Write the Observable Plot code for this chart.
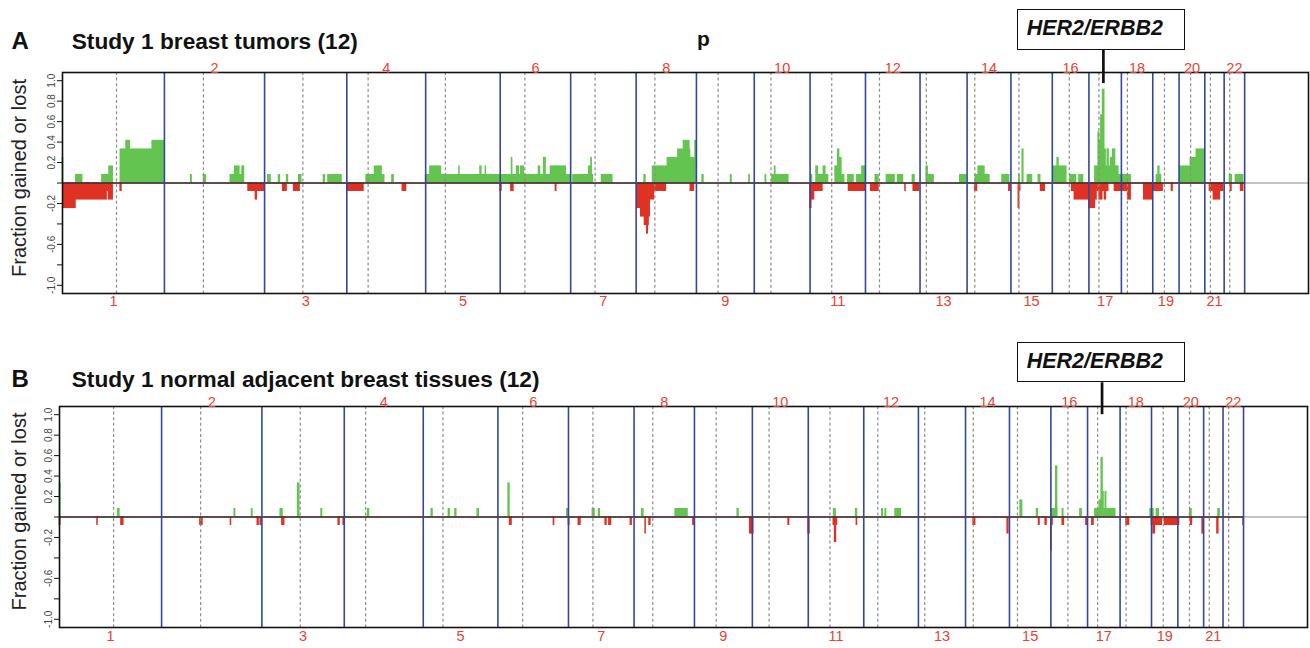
<!DOCTYPE html>
<html><head><meta charset="utf-8">
<script src="https://cdn.jsdelivr.net/npm/d3@7"></script>
<script src="https://cdn.jsdelivr.net/npm/@observablehq/plot@0.6"></script>
<style>
body{margin:0;background:#fff;font-family:"Liberation Sans",Arial,sans-serif;}
#wrap{position:relative;width:1310px;height:648px;overflow:hidden;}
.panel{position:absolute;left:0;}
.box{position:absolute;border:1.5px solid #111;background:#fff;box-sizing:border-box;
 font-family:"Liberation Sans",Arial,sans-serif;font-style:italic;font-weight:bold;font-size:21.5px;
 color:#111;padding-left:9px;white-space:nowrap;}
</style></head>
<body><div id="wrap"></div>
<script>
// ---------- data ----------
const chromNames = ["1","2","3","4","5","6","7","8","9","10","11","12","13","14","15","16","17","18","19","20","21","22","X"];
const chromLengthsMb = [247.25,242.95,199.5,191.27,180.86,170.9,158.82,146.27,140.27,135.37,134.45,132.35,114.14,106.37,100.34,88.83,78.77,76.12,63.81,62.44,46.94,49.69,154.91];
const centromereMb = [131,94.6,92.9,51.7,47.8,59.9,59.2,45.4,52.6,40.5,52.6,34,15.3,18.7,19.4,41.2,24.3,14.6,28.4,28.1,13.6,13.6];
const yTicks = [-1,-0.8,-0.6,-0.4,-0.2,0,0.2,0.4,0.6,0.8,1];
const yTickLabels = ["-1.0","","-0.6","","-0.2","","0.2","0.4","0.6","0.8","1.0"];
const erbb2 = {chr: 17, mb: 35.1};

// [chromosome, start Mb, end Mb, fraction]
const gainsA = [
 [1,0,2.4,0.25],[1,32.5,48.7,0.083],[1,95.8,113,0.083],[1,113,122.7,0.167],[1,140.5,154.3,0.333],[1,154.3,164,0.417],[1,164,217.7,0.333],[1,217.7,247,0.417],
 [2,64,67,0.083],[2,95,101.5,0.083],[2,160,170.6,0.083],[2,170.6,182.8,0.167],[2,182.8,188.5,0.083],[2,188.5,194,0.167],
 [3,8,15.4,0.083],[3,34,38,0.083],[3,53.6,57.7,0.083],[3,83,90,0.083],[3,143,147,0.083],[3,154,187.6,0.083],
 [4,47,67.4,0.083],[4,67.4,85.3,0.167],[4,85.3,91.8,0.083],[4,109.7,114.5,0.083],
 [5,0,10.5,0.083],[5,10.5,38,0.167],[5,38,180.8,0.083],[5,81,83,0.167],[5,132,136,0.167],[5,145,147,0.167],
 [6,0,122,0.083],[6,27.6,30,0.25],[6,40,46,0.167],[6,50,58.5,0.167],[6,93,97.5,0.167],[6,105.6,111,0.25],[6,122,160,0.167],[6,160,170.9,0.083],
 [7,5.7,44,0.083],[7,44,49.5,0.167],[7,49.5,52,0.25],[7,52,55,0.083],[7,75,102,0.083],
 [8,19.5,23.5,0.083],[8,40,76,0.167],[8,76,101.5,0.25],[8,101.5,115,0.333],[8,115,130,0.417],[8,130,132,0.333],[8,132,143,0.25],[8,143,146.2,0.417],
 [9,14,18,0.083],[9,83,86,0.083],[9,127.5,130,0.083],
 [10,27,29.5,0.083],[10,43,83.7,0.083],[10,49.5,52,0.167],
 [11,2.4,5.7,0.083],[11,14.6,20,0.167],[11,20,32.5,0.083],[11,32.5,38,0.167],[11,38,44.7,0.083],[11,61,67.4,0.167],[11,67.4,71.5,0.333],[11,71.5,77,0.25],[11,77,83.7,0.083],[11,91.8,106.4,0.083],[11,113.7,126,0.083],[11,126,134,0.167],
 [12,24,32.5,0.083],[12,51,71.5,0.083],[12,78,92,0.083],[12,114,120,0.083],
 [13,15.4,19.5,0.167],[13,19.5,34,0.083],[13,96.7,113,0.083],
 [14,20,27,0.083],[14,27,43,0.167],[14,43,55,0.083],[14,85,103,0.083],
 [15,19.5,22,0.083],[15,27.6,31,0.333],[15,40,52,0.083],[15,66.6,72,0.083],
 [16,2.4,12,0.167],[16,12,16,0.25],[16,16,35,0.167],[16,43,58.5,0.083],[16,65,75.5,0.083],
 [17,14.6,22.7,0.167],[17,22.7,26,0.5],[17,26,29.2,0.417],[17,29.2,33.3,0.667],[17,33.3,38.2,0.917],[17,38.2,41.5,0.333],[17,41.5,44.7,0.167],[17,44.7,48.7,0.333],[17,48.7,52.8,0.167],[17,52.8,58,0.25],[17,58,64.5,0.333],[17,64.5,72.5,0.167],[17,72.5,78.7,0.083],
 [18,0,23.5,0.083],
 [19,9,13,0.083],[19,13,17,0.167],[19,17,21,0.083],
 [20,1.6,27.6,0.167],[20,27.6,42,0.25],[20,42,62,0.333],
 [22,13,19.5,0.083],[22,27.6,47,0.083]
];
const lossesA = [
 [1,2.4,32.5,-0.25],[1,32.5,108,-0.167],[1,108,112,-0.083],[1,112,122.7,-0.167],[1,140,144,-0.083],
 [2,203,242,-0.083],[2,221,225,-0.167],
 [3,44,54.4,-0.083],[3,70.7,86,-0.083],
 [4,2.4,41.4,-0.083],[4,134.8,144.6,-0.083],
 [6,0,4,-0.083],[6,26,33,-0.083],[6,134,137,-0.083],
 [8,1.6,11.4,-0.25],[8,11.4,20.3,-0.333],[8,20.3,26,-0.417],[8,26,29.2,-0.5],[8,29.2,31.2,-0.417],[8,31.2,34,-0.333],[8,34,44,-0.167],[8,44,73,-0.083],[8,131.6,141,-0.083],
 [11,0,4,-0.25],[11,4,10.6,-0.167],[11,10.6,31,-0.083],[11,93.4,134.4,-0.083],
 [12,13,32.5,-0.083],[12,96,98,-0.083],[12,116,131,-0.083],
 [14,18.7,25,-0.083],[14,101.5,106,-0.083],
 [15,18,21,-0.25],[15,21,23.5,-0.083],[15,72,83,-0.083],
 [16,47,53.6,-0.083],[16,53.6,88.8,-0.167],
 [17,0,15.4,-0.25],[17,15.4,19.5,-0.167],[17,19.5,25,-0.083],[17,25,33.3,-0.167],[17,33.3,38,-0.083],[17,38,42,-0.167],[17,42,48,-0.083],[17,62,78.7,-0.083],
 [18,0,15.4,-0.083],[18,15.4,23.5,-0.167],[18,54.4,76,-0.167],
 [19,0,25,-0.083],[19,45.5,49,-0.083],
 [21,11.4,21,-0.083],[21,21,37.4,-0.167],[21,37.4,45.5,-0.083],
 [22,15.4,18.7,-0.083],[22,40,47,-0.083]
];
const gainsB = [
 [1,0,3,0.333],[1,141,146,0.083],
 [2,176,179,0.083],[2,218,221,0.083],
 [3,44.6,51,0.083],[3,86.7,91.6,0.333],[3,143.5,146.7,0.083],
 [4,56.7,60.8,0.083],
 [5,19.5,23.5,0.083],[5,61,65,0.083],[5,77,81,0.083],[5,131,135.4,0.083],
 [6,25,29,0.333],[6,167,170.9,0.083],
 [7,58,64,0.083],[7,73,77,0.083],
 [8,18.6,23.5,0.083],[8,99.7,130.5,0.083],
 [9,103.8,107.8,0.083],
 [11,61.6,67.3,0.083],[11,115,119,0.083],
 [12,43.8,47,0.083],[12,52,55,0.083],[12,76,90.8,0.083],
 [15,26,31.6,0.167],[15,65.7,69.7,0.083],
 [16,0,16,0.083],[16,12,16,0.5],[16,28,31,0.083],[16,70.5,75.4,0.083],
 [17,17.8,28.4,0.083],[17,28.4,33.3,0.167],[17,33.3,37.3,0.583],[17,37.3,39.7,0.25],[17,39.7,43,0.083],[17,43,46,0.25],[17,46,68,0.083],
 [18,73,76.1,0.083],[19,0,5.7,0.083],[19,12,18.6,0.083],
 [20,29,34,0.083],
 [21,35,39.7,0.083]
];
const lossesB = [
 [1,0,3,-0.083],[1,91,93,-0.083],[1,149,155.6,-0.083],
 [2,93,100,-0.083],[2,167,169,-0.083],[2,232,236,-0.083],[2,239,242.9,-0.083],
 [3,48.6,55,-0.083],[3,185,189,-0.083],[3,197,199.5,-0.083],
 [6,28.4,34,-0.083],[6,134.6,137,-0.083],
 [7,0,3,-0.083],[7,24,30,-0.083],[7,89,93,-0.083],[7,98,104,-0.083],[7,150,154,-0.083],
 [8,27,29,-0.167],[8,36.5,40.5,-0.083],[8,142.7,146,-0.083],
 [9,134,140.2,-0.167],
 [10,0,3.2,-0.167],[10,86.7,90,-0.083],
 [11,0,4,-0.167],[11,60.8,70.5,-0.083],[11,64,68,-0.25],[11,116.7,119,-0.083],
 [14,18.6,24.3,-0.083],[14,101,104.6,-0.167],
 [15,70.5,73.8,-0.083],[15,86.7,90.8,-0.083],
 [16,0,2.4,-0.333],[16,2.4,5,-0.083],[16,27.6,32.4,-0.083],[16,85,88.8,-0.083],
 [17,10.5,15.4,-0.083],
 [18,14.6,22.7,-0.083],
 [19,0,26,-0.083],[19,4,9,-0.167],[19,31.6,63.8,-0.083],
 [20,0,4,-0.083],[20,31,35,-0.083],[20,59,62.4,-0.167],
 [21,32.4,36.5,-0.167],
 [22,48.6,49.7,-0.083]
];

// ---------- layout / style ----------
const GREEN = "#63c450", RED = "#e03224", BLUE = "#3346a3", DASH = "#8c8c8c", LABELRED = "#e8412f";
const chromStart = Array.from(d3.cumsum([0, ...chromLengthsMb]));
const genomeEnd = chromStart[chromStart.length - 1];
const genome = (c, mb) => chromStart[c - 1] + mb;
const autosomes = d3.range(22);

function panel(cfg) {
  const bar = (data, fill) => Plot.rectY(data, {
    x1: d => genome(d[0], d[1]), x2: d => genome(d[0], d[2]),
    y1: () => 0, y2: d => d[3], fill, insetLeft: -0.35, insetRight: -0.35
  });
  return Plot.plot({
    width: 1310, height: 324,
    marginLeft: cfg.ml, marginRight: cfg.mr, marginTop: cfg.mt, marginBottom: cfg.mb,
    x: {domain: [0, genomeEnd], axis: null},
    y: {domain: [-1.08, 1.08]},
    style: {fontFamily: "'Liberation Sans', Arial, sans-serif", background: "transparent", overflow: "visible"},
    marks: [
      bar(cfg.gains, GREEN),
      bar(cfg.losses, RED),
      Plot.ruleX(centromereMb, {x: (d, i) => genome(i + 1, d), stroke: DASH, strokeWidth: 1.2, strokeDasharray: "3,2.6"}),
      Plot.ruleY([0], {stroke: "#8a8a8a", strokeWidth: 1.2}),
      Plot.ruleY([0], {x1: () => 0, x2: () => chromStart[22], stroke: "#3d2424", strokeWidth: 1.3}),
      Plot.ruleX(autosomes, {x: i => chromStart[i + 1], stroke: BLUE, strokeWidth: 1.6}),
      Plot.frame({stroke: "#111", strokeWidth: 1.6}),
      Plot.axisY({ticks: yTicks, tickFormat: d => yTickLabels[yTicks.indexOf(d)], tickRotate: -90,
        tickSize: 5, tickPadding: 3, fontSize: 10, fill: "#444", stroke: "#111", label: null}),
      Plot.text(autosomes.filter(i => i % 2 === 1), {x: i => chromStart[i] + chromLengthsMb[i] / 2, text: i => chromNames[i],
        frameAnchor: "top", dy: cfg.topLabelDy, fill: LABELRED, fontSize: 14.5}),
      Plot.text(autosomes.filter(i => i % 2 === 0), {x: i => chromStart[i] + chromLengthsMb[i] / 2, text: i => chromNames[i],
        frameAnchor: "bottom", dy: cfg.bottomLabelDy, fill: LABELRED, fontSize: 14.5}),
      Plot.text(["Fraction gained or lost"], {text: d => d, frameAnchor: "left", dx: 19 - cfg.ml, dy: cfg.ylabDy,
        rotate: -90, textAnchor: "middle", fontSize: 20, fill: "#222"}),
      Plot.text([cfg.letter], {text: d => d, frameAnchor: "top-left", dx: 11 - cfg.ml, dy: cfg.titleDy, lineAnchor: "bottom",
        textAnchor: "start", fontWeight: "bold", fontSize: 24, fill: "#111"}),
      Plot.text([cfg.title], {text: d => d, frameAnchor: "top-left", dx: 71.2 - cfg.ml, dy: cfg.titleDy, lineAnchor: "bottom",
        textAnchor: "start", fontWeight: "bold", fontSize: 22.7, fill: "#111"}),
      ...(cfg.extra ? [Plot.text([cfg.extra], {text: d => d, frameAnchor: "top-left", dx: 703 - cfg.ml, dy: -27, lineAnchor: "bottom",
        textAnchor: "middle", fontWeight: "bold", fontSize: 21, fill: "#111"})] : []),
      Plot.ruleX([erbb2], {x: d => genome(d.chr, d.mb), y1: () => cfg.lineY1, y2: () => cfg.lineY2, stroke: "#111", strokeWidth: 2.7})
    ]
  });
}

const wrap = document.getElementById("wrap");
const panels = [
  {top: 0, ml: 62, mr: 2, mt: 72, mb: 31, gains: gainsA, losses: lossesA, letter: "A",
   title: "Study 1 breast tumors (12)", extra: "p", titleDy: -23.7, topLabelDy: -10, bottomLabelDy: 12.5, ylabDy: -5,
   lineY1: 0.972, lineY2: 1.302, box: {left: 1016.7, top: 9.3}},
  {top: 324, ml: 59, mr: 3, mt: 82, mb: 21, gains: gainsB, losses: lossesB, letter: "B",
   title: "Study 1 normal adjacent breast tissues (12)", extra: null, titleDy: -19.3, topLabelDy: -9.7, bottomLabelDy: 13, ylabDy: -5.5,
   lineY1: 1.0, lineY2: 1.312, box: {left: 1016.7, top: 341.7}}
];
for (const cfg of panels) {
  const svg = panel(cfg);
  svg.classList.add("panel");
  svg.style.top = cfg.top + "px";
  wrap.appendChild(svg);
  const box = document.createElement("div");
  box.className = "box";
  box.textContent = "HER2/ERBB2";
  Object.assign(box.style, {left: cfg.box.left + "px", top: cfg.box.top + "px", width: "168.3px", height: "40.5px", lineHeight: "37.5px"});
  wrap.appendChild(box);
}
</script>
</body></html>
